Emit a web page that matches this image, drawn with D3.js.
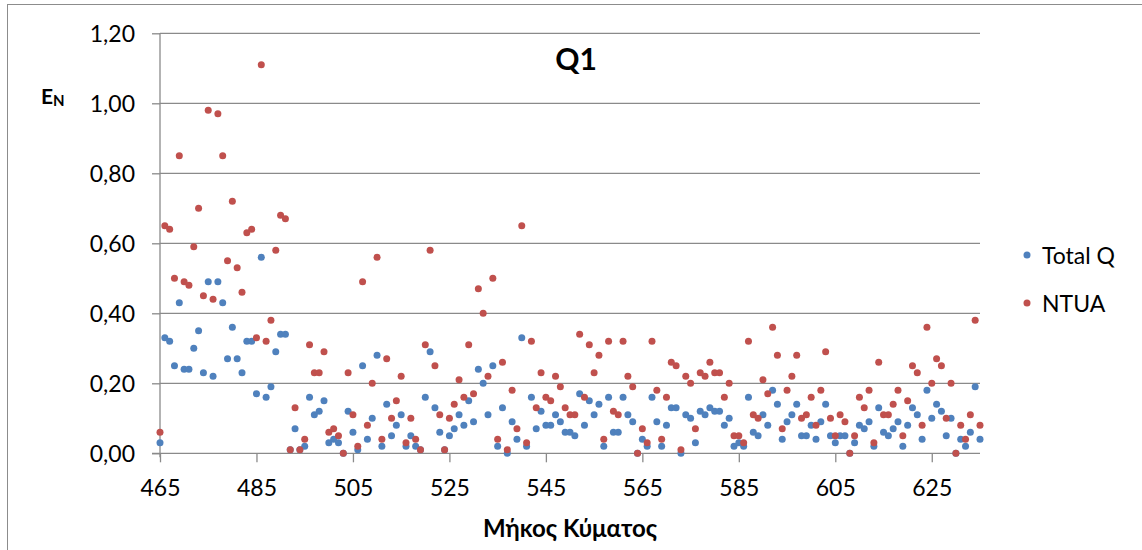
<!DOCTYPE html>
<html>
<head>
<meta charset="utf-8">
<script src="https://cdn.jsdelivr.net/npm/d3@7/dist/d3.min.js"></script>
<style>
  html, body { margin: 0; padding: 0; background: #ffffff; }
  svg { display: block; }
  text { font-family: Lato, "Open Sans", sans-serif; fill: #000; }
</style>
</head>
<body>
<svg id="chart" width="1142" height="550"></svg>
<script>
// Wavelength grid (nm), one reading per nanometre
const wavelengthStart = 465;
const wavelengthEnd = 635;
const wavelengths = d3.range(wavelengthStart, wavelengthEnd + 1);

// E_N per wavelength, 465..635 nm
const totalQ = [
  0.03,0.33,0.32,0.25,0.43,0.24,0.24,0.30,0.35,0.23,
  0.49,0.22,0.49,0.43,0.27,0.36,0.27,0.23,0.32,0.32,
  0.17,0.56,0.16,0.19,0.29,0.34,0.34,0.01,0.07,0.01,
  0.02,0.16,0.11,0.12,0.15,0.03,0.04,0.03,0.00,0.12,
  0.06,0.01,0.25,0.04,0.10,0.28,0.02,0.14,0.05,0.08,
  0.11,0.02,0.05,0.02,0.01,0.16,0.29,0.13,0.06,0.01,
  0.05,0.07,0.11,0.08,0.15,0.09,0.24,0.20,0.11,0.25,
  0.02,0.13,0.00,0.09,0.04,0.33,0.02,0.16,0.07,0.12,
  0.08,0.08,0.11,0.09,0.06,0.06,0.05,0.17,0.08,0.15,
  0.11,0.14,0.02,0.16,0.06,0.06,0.16,0.11,0.09,0.00,
  0.04,0.02,0.16,0.09,0.02,0.08,0.13,0.13,0.00,0.11,
  0.10,0.03,0.12,0.11,0.13,0.12,0.12,0.08,0.10,0.02,
  0.03,0.02,0.16,0.06,0.05,0.11,0.08,0.18,0.14,0.04,
  0.09,0.11,0.14,0.05,0.05,0.08,0.04,0.09,0.14,0.05,
  0.03,0.05,0.05,0.00,0.03,0.08,0.07,0.09,0.02,0.13,
  0.06,0.05,0.07,0.09,0.02,0.08,0.13,0.11,0.04,0.18,
  0.10,0.14,0.12,0.05,0.10,0.00,0.04,0.02,0.06,0.19,
  0.04
];

const ntua = [
  0.06,0.65,0.64,0.50,0.85,0.49,0.48,0.59,0.70,0.45,
  0.98,0.44,0.97,0.85,0.55,0.72,0.53,0.46,0.63,0.64,
  0.33,1.11,0.32,0.38,0.58,0.68,0.67,0.01,0.13,0.01,
  0.04,0.31,0.23,0.23,0.29,0.06,0.07,0.05,0.00,0.23,
  0.11,0.02,0.49,0.08,0.20,0.56,0.04,0.27,0.10,0.15,
  0.22,0.03,0.10,0.04,0.01,0.31,0.58,0.25,0.11,0.01,
  0.10,0.14,0.21,0.16,0.31,0.17,0.47,0.40,0.22,0.50,
  0.04,0.26,0.01,0.18,0.07,0.65,0.03,0.32,0.13,0.23,
  0.16,0.15,0.22,0.19,0.13,0.11,0.11,0.34,0.16,0.31,
  0.23,0.28,0.04,0.32,0.12,0.11,0.32,0.22,0.19,0.00,
  0.07,0.03,0.32,0.18,0.04,0.16,0.26,0.25,0.01,0.22,
  0.20,0.07,0.23,0.22,0.26,0.23,0.23,0.16,0.20,0.05,
  0.05,0.03,0.32,0.11,0.10,0.21,0.17,0.36,0.28,0.07,
  0.18,0.22,0.28,0.10,0.11,0.16,0.08,0.18,0.29,0.10,
  0.05,0.11,0.09,0.00,0.05,0.16,0.13,0.18,0.03,0.26,
  0.11,0.11,0.14,0.18,0.05,0.15,0.25,0.23,0.08,0.36,
  0.20,0.27,0.25,0.10,0.20,0.00,0.08,0.04,0.11,0.38,
  0.08
];

const seriesNames = ["Total Q", "NTUA"];
const seriesColors = ["#4F81BD", "#C0504D"];
const xTicks = [465, 485, 505, 525, 545, 565, 585, 605, 625];
const yTicks = [0, 0.2, 0.4, 0.6, 0.8, 1.0, 1.2];
const chartTitle = "Q1";
const xAxisTitle = "Μήκος Κύματος";

const svg = d3.select("#chart");

// outer chart frame
svg.append("rect")
  .attr("x", 7.5).attr("y", 4.5)
  .attr("width", 1160).attr("height", 600)
  .attr("fill", "#ffffff")
  .attr("stroke", "#8c8c8c").attr("stroke-width", 1);

const plot = { left: 160, right: 980, top: 33.3, bottom: 453.3 };

const x = d3.scaleLinear().domain([wavelengthStart, wavelengthEnd]).range([plot.left, plot.right]);
const y = d3.scaleLinear().domain([0, 1.2]).range([plot.bottom, plot.top]);

const fmt = v => d3.format(".2f")(v).replace(".", ",");
const gridColor = "#8a8a8a";

// horizontal gridlines
svg.append("g")
  .selectAll("line")
  .data(yTicks.filter(v => v > 0))
  .join("line")
  .attr("x1", plot.left).attr("x2", plot.right)
  .attr("y1", d => y(d)).attr("y2", d => y(d))
  .attr("stroke", gridColor).attr("stroke-width", 1.3);

// y axis
const yAxis = svg.append("g")
  .attr("transform", `translate(${plot.left},0)`)
  .call(d3.axisLeft(y).tickValues(yTicks).tickFormat(fmt).tickSize(8).tickPadding(17));
yAxis.select(".domain").attr("stroke", gridColor).attr("stroke-width", 1.3)
  .attr("d", `M0,${plot.top}V${plot.bottom + 4}`);
yAxis.selectAll(".tick line").attr("stroke", gridColor).attr("stroke-width", 1.3);
yAxis.selectAll(".tick text").style("font-size", "23px").attr("dy", "0.34em");

// x axis
const xAxis = svg.append("g")
  .attr("transform", `translate(0,${plot.bottom})`)
  .call(d3.axisBottom(x).tickValues(xTicks).tickFormat(d3.format("d")).tickSize(9).tickPadding(17));
xAxis.select(".domain").attr("stroke", gridColor).attr("stroke-width", 1.3)
  .attr("d", `M${plot.left - 8},0H${plot.right}`);
xAxis.selectAll(".tick line").attr("stroke", gridColor).attr("stroke-width", 1.3);
xAxis.selectAll(".tick text").style("font-size", "23px").attr("dy", "0.71em");

// series markers: Total Q first, NTUA drawn on top
const series = [totalQ, ntua];
series.forEach((vals, i) => {
  svg.append("g")
    .selectAll("circle")
    .data(wavelengths.map((w, k) => [w, vals[k]]))
    .join("circle")
    .attr("cx", d => x(d[0]))
    .attr("cy", d => y(d[1]))
    .attr("r", 3.5)
    .attr("fill", seriesColors[i]);
});

// chart title
svg.append("text")
  .attr("x", 576).attr("y", 70)
  .attr("text-anchor", "middle")
  .style("font-size", "30px").style("font-weight", "bold")
  .text(chartTitle);

// y axis title E_N
const yt = svg.append("text")
  .attr("x", 41).attr("y", 104)
  .style("font-weight", "bold");
yt.append("tspan").style("font-size", "21px").text("E");
yt.append("tspan").style("font-size", "15px").attr("dy", 2).text("N");

// x axis title
svg.append("text")
  .attr("x", 570).attr("y", 537)
  .attr("text-anchor", "middle")
  .style("font-size", "24px").style("font-weight", "bold")
  .text(xAxisTitle);

// legend
const legend = svg.append("g");
seriesNames.forEach((name, i) => {
  const cy = 255 + i * 48;
  legend.append("circle")
    .attr("cx", 1027).attr("cy", cy).attr("r", 3.5)
    .attr("fill", seriesColors[i]);
  legend.append("text")
    .attr("x", 1042).attr("y", cy + 8.5)
    .style("font-size", "23px")
    .text(name);
});
</script>
</body>
</html>
